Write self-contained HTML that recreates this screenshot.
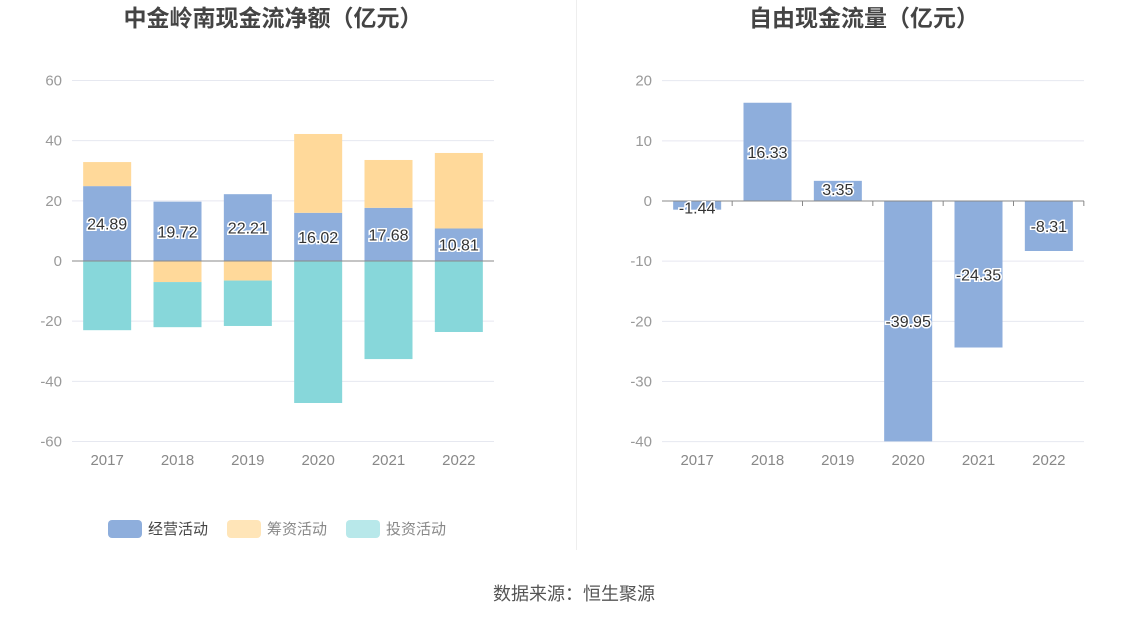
<!DOCTYPE html>
<html><head><meta charset="utf-8"><style>
body{margin:0;background:#fff;font-family:"Liberation Sans","Noto Sans CJK SC",sans-serif;}
svg text{font-family:"Liberation Sans","Noto Sans CJK SC",sans-serif;}
</style></head><body>
<svg id="c" width="1148" height="619">
<text x="273" y="26" text-anchor="middle" font-size="23" font-weight="bold" fill="#444">中金岭南现金流净额（亿元）</text>
<text x="864" y="26" text-anchor="middle" font-size="23" font-weight="bold" fill="#444">自由现金流量（亿元）</text>
<line x1="576.5" y1="0" x2="576.5" y2="550" stroke="#eee"/>
<text x="574" y="600" text-anchor="middle" font-size="18" fill="#555">数据来源：恒生聚源</text>
<g id="left"></g><g id="right"></g>
<g>
<rect x="108" y="520" width="34" height="18" rx="4" fill="#8eaedc"/>
<text x="148" y="534" font-size="15" fill="#444">经营活动</text>
<rect x="227" y="520" width="34" height="18" rx="4" fill="#ffe5b8"/>
<text x="267" y="534" font-size="15" fill="#888">筹资活动</text>
<rect x="346" y="520" width="34" height="18" rx="4" fill="#b8e8ea"/>
<text x="386" y="534" font-size="15" fill="#888">投资活动</text>
</g>
</svg>
<script>
const years=["2017","2018","2019","2020","2021","2022"];
const operating=[24.89,19.72,22.21,16.02,17.68,10.81];
const financing=[8.0,-7.0,-6.5,26.2,15.9,25.1];
const investing=[-23.0,-15.0,-15.1,-47.2,-32.6,-23.6];
const leftTicks=[60,40,20,0,-20,-40,-60];
const freeCash=[-1.44,16.33,3.35,-39.95,-24.35,-8.31];
const rightTicks=[20,10,0,-10,-20,-30,-40];
const NS="http://www.w3.org/2000/svg";
function mk(p,t,a){const e=document.createElementNS(NS,t);for(const k in a)e.setAttribute(k,a[k]);p.appendChild(e);return e;}
function axes(g,x0,x1,ticks,y,name){
 ticks.forEach(t=>{
  const l=mk(g,"line",{x1:x0,x2:x1,y1:y(t),y2:y(t),stroke:t===0?"#888":"#e6e8f0"});
  
  
  const tx=mk(g,"text",{x:x0-10,y:y(t)+5,"text-anchor":"end","font-size":15,fill:"#999"});tx.textContent=t;
  
  
 });
}
function xlabels(g,x,name){years.forEach((yr,i)=>{const t=mk(g,"text",{x:x(i),y:465,"text-anchor":"middle","font-size":15,fill:"#888"});t.textContent=yr;
 
 });}
function bar(g,cx,v0,v1,y,fill,name){const a=y(Math.max(v0,v1)),b=y(Math.min(v0,v1));
 const r=mk(g,"rect",{x:cx-24,y:a,width:48,height:b-a,fill:fill});
 
 return r;}
function lbl(g,cx,cy,s,name){const t=mk(g,"text",{x:cx,y:cy+6,"text-anchor":"middle","font-size":16,fill:"#333",stroke:"#fff","stroke-width":3,"paint-order":"stroke"});t.textContent=s;
 
 }
const L=document.getElementById("left");
const yL=v=>261-v*(361/120);const xL=i=>72+422/6*(i+0.5);
axes(L,72,494,leftTicks,yL,"left");xlabels(L,xL,"left");
years.forEach((yr,i)=>{
 let pos=0,neg=0;
 [[operating[i],"#8eaedc","bar-operating-"+yr],[financing[i],"#ffd99a","bar-financing-"+yr],[investing[i],"#87d7da","bar-investing-"+yr]].forEach(([v,c,n])=>{
  if(v>=0){bar(L,xL(i),pos,pos+v,yL,c,n);pos+=v;}else{bar(L,xL(i),neg,neg+v,yL,c,n);neg+=v;}
 });
});
mk(L,"line",{x1:72,x2:494,y1:yL(0),y2:yL(0),stroke:"#888"});
years.forEach((yr,i)=>lbl(L,xL(i),yL(operating[i]/2),operating[i].toFixed(2),"label-operating-"+yr));
const R=document.getElementById("right");
const yR=v=>201-v*(361/60);const xR=i=>662+422/6*(i+0.5);
axes(R,662,1084,rightTicks,yR,"right");xlabels(R,xR,"right");
years.forEach((yr,i)=>{bar(R,xR(i),0,freeCash[i],yR,"#8eaedc","bar-free-cash-"+yr);});
mk(R,"line",{x1:662,x2:1084,y1:yR(0),y2:yR(0),stroke:"#888"});
years.forEach((yr,i)=>{mk(R,"line",{x1:xR(i)+35,x2:xR(i)+35,y1:yR(0),y2:yR(0)+5,stroke:"#888"});
 lbl(R,xR(i),yR(freeCash[i]/2)+(Math.abs(freeCash[i])<5?(freeCash[i]<0?2:-2):0),freeCash[i].toFixed(2),"label-free-cash-"+yr);});
</script>
</body></html>
